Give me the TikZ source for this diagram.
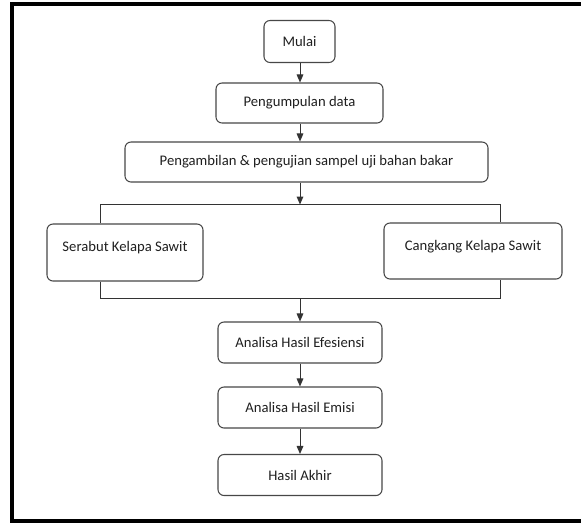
\documentclass[tikz,border=0pt]{standalone}
\usepackage{fontspec}
\setmainfont{Carlito}
\usetikzlibrary{arrows.meta}
\begin{document}
\begin{tikzpicture}[x=0.75pt,y=-0.75pt,
  box/.style={draw=black!72, line width=0.8pt, rounded corners=4.5pt, inner sep=0pt,
    font=\fontsize{11}{13}\selectfont, text=black!88},
  upbox/.style={box, text height=8pt, text depth=#1},
  conn/.style={draw=black!80, line width=0.75pt},
  arr/.style={conn, -{Triangle[width=5pt,length=6pt]}}]
\useasboundingbox (0,0) rectangle (581,522);
\begin{scope}
\clip (0,0) rectangle (581,522);
\draw[line width=3pt] (600,4) -- (12,4) -- (12,520.5) -- (600,520.5);
\end{scope}
\node[box, minimum width=53.25pt, minimum height=31.5pt] (m) at (299.5,41.5) {Mulai};
\node[box, minimum width=125.25pt, minimum height=30pt] (p1) at (299.5,103) {Pengumpulan data};
\node[box, minimum width=272.25pt, minimum height=30pt] (p2) at (306.5,162) {Pengambilan \& pengujian sampel uji bahan bakar};
\node[upbox=9.3pt, minimum width=117pt, minimum height=42.75pt] (s1) at (125,252.5) {Serabut Kelapa Sawit};
\node[upbox=8.5pt, minimum width=133.5pt, minimum height=42pt] (s2) at (473,251) {Cangkang Kelapa Sawit};
\node[box, minimum width=123pt, minimum height=30.75pt] (a1) at (300,342.5) {Analisa Hasil Efesiensi};
\node[box, minimum width=123pt, minimum height=30.75pt] (a2) at (300,407.5) {Analisa Hasil Emisi};
\node[box, minimum width=123pt, minimum height=30.75pt] (a3) at (300,475) {Hasil Akhir};
\coordinate (j1) at (300,204.5);
\coordinate (l1) at (100,204.5);
\coordinate (r1) at (500,204.5);
\coordinate (j2) at (300,298.5);
\coordinate (l2) at (100,298.5);
\coordinate (r2) at (500,298.5);
\draw[arr] (m.south -| j1) -- (p1.north -| j1);
\draw[arr] (p1.south -| j1) -- (p2.north -| j1);
\draw[arr] (p2.south -| j1) -- (j1);
\draw[conn] (s1.north -| l1) -- (l1) -- (r1) -- (s2.north -| r1);
\draw[conn] (s1.south -| l2) -- (l2) -- (r2) -- (s2.south -| r2);
\draw[arr] (j2) -- (a1.north -| j2);
\draw[arr] (a1.south -| j2) -- (a2.north -| j2);
\draw[arr] (a2.south -| j2) -- (a3.north -| j2);
\end{tikzpicture}
\end{document}
